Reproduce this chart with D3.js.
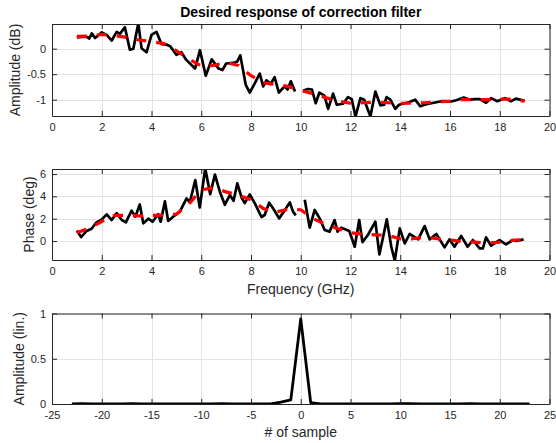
<!DOCTYPE html>
<html>
<head>
<meta charset="utf-8">
<script src="https://cdn.jsdelivr.net/npm/d3@7"></script>
<style>
  body { margin: 0; background: #fff; }
  svg { display: block; font-family: "Liberation Sans", Arial, Helvetica, sans-serif; }
</style>
</head>
<body>
<div id="chart"></div>
<script>
// ---- data ----
// measured amplitude (dB); null marks the break near 10 GHz
const ampFreq = [1.0,1.2,1.4,1.5,1.6,1.73,2.0,2.2,2.4,2.6,2.73,2.93,3.13,3.27,3.47,3.6,3.8,4.0,4.2,4.4,4.6,4.75,
  5.0,5.2,5.4,5.75,5.95,6.18,6.42,6.7,6.85,7.0,7.28,7.45,7.57,7.79,7.95,8.15,8.35,8.49,8.62,8.79,8.95,
  9.12,9.35,9.47,9.6,9.77,9.9,10.1,10.3,10.45,10.6,10.75,10.95,11.1,11.3,11.45,11.7,11.9,12.05,12.2,12.4,
  12.55,12.8,13.0,13.2,13.35,13.45,13.6,13.8,13.95,14.1,14.35,14.6,14.8,15.05,15.35,15.65,16.0,16.25,
  16.55,16.8,17.0,17.2,17.45,17.65,17.9,18.2,18.45,18.65,19.0];
const ampMeas = [0.22,0.23,0.23,0.20,0.30,0.21,0.32,0.27,0.16,0.33,0.29,0.42,-0.02,0.0,0.5,0.01,-0.07,0.27,0.33,0.09,0.08,0.05,
  -0.12,-0.07,-0.22,-0.39,-0.03,-0.53,-0.21,-0.39,-0.42,-0.29,-0.28,-0.25,-0.13,-0.71,-0.86,-0.68,-0.49,-0.74,-0.62,-0.69,-0.56,
  -0.86,-0.74,-0.80,-0.64,-0.84,null,-0.82,-0.79,-0.80,-1.07,-0.86,-0.92,-1.18,-0.88,-1.10,-1.08,-0.95,-0.99,-1.33,-0.97,
  -1.0,-1.33,-0.84,-1.11,-1.1,-0.95,-1.0,-1.18,-1.1,-1.08,-1.05,-1.0,-1.13,-1.09,-1.06,-1.03,-1.04,-1.01,
  -0.96,-1.0,-0.99,-0.99,-1.06,-0.97,-1.03,-0.97,-1.03,-0.98,-1.02];

// measured phase (deg)
const phFreq = [1.0,1.17,1.39,1.59,1.79,1.99,2.2,2.4,2.6,2.8,2.97,3.2,3.35,3.53,3.67,3.87,4.04,4.27,4.37,4.54,4.67,4.87,
  5.14,5.41,5.54,5.76,5.94,6.16,6.36,6.55,6.75,6.95,7.15,7.3,7.45,7.62,7.75,7.95,8.15,8.42,8.55,8.73,8.93,
  9.13,9.32,9.56,9.69,9.8,9.95,10.16,10.36,10.56,10.76,10.96,11.16,11.36,11.48,11.63,11.95,12.17,12.35,12.48,12.7,
  13.0,13.16,13.3,13.46,13.64,13.78,13.98,14.18,14.38,14.72,14.98,15.18,15.45,15.78,15.98,16.18,16.45,16.71,16.92,
  17.19,17.32,17.45,17.65,17.99,18.25,18.53,18.66,18.96];
const phMeas = [0.95,0.35,0.9,1.1,1.67,1.9,2.39,1.88,2.5,1.9,1.67,2.72,2.18,3.28,1.58,2.0,1.73,2.4,1.73,3.55,1.8,2.18,
  2.63,3.82,3.45,5.46,3.0,6.5,4.2,5.95,4.4,3.25,4.12,3.6,5.16,3.9,3.4,4.18,3.4,2.15,2.33,3.43,2.78,
  2.03,2.63,3.46,2.63,2.3,null,3.7,1.2,2.78,2.03,0.98,0.84,1.88,0.84,1.19,0.9,-0.51,1.88,-0.1,0.54,
  1.73,-1.2,0.24,1.94,-0.51,-1.75,1.13,-0.21,0.63,0.15,1.34,0.15,0.63,-0.57,0.15,-0.51,0.45,-0.51,0.09,
  -0.66,-0.66,0.33,-0.42,0.09,-0.3,0.09,0.0,0.15];

// smoothed target (red dashed)
const fitFreq = [1,1.5,2,2.5,3,3.5,4,4.5,5,5.5,6,6.5,7,7.5,8,8.5,9,9.5,10,10.5,11,11.5,12,12.5,13,13.5,14,14.5,15,15.5,16,16.5,17,17.5,18,18.5,19];
const ampFit = [0.24,0.25,0.28,0.26,0.22,0.17,0.14,0.10,-0.04,-0.2,-0.34,-0.33,-0.27,-0.33,-0.53,-0.67,-0.7,-0.74,-0.82,-0.88,-0.96,-1.03,-1.07,-1.06,-1.05,-1.06,-1.07,-1.07,-1.06,-1.04,-1.03,-1.0,-1.0,-1.0,-0.99,-0.99,-1.03];
const phFit = [0.75,1.15,1.75,2.3,2.3,2.25,2.3,2.33,2.4,3.3,4.6,4.75,4.4,4.1,3.7,2.9,2.6,2.85,2.8,2.0,1.5,1.1,0.75,0.6,0.55,0.5,0.2,0.2,0.35,0.2,0.1,-0.05,-0.1,-0.2,-0.1,0.05,0.15];

// filter taps
const tapIndex = [-23,-22,-21,-20,-19,-18,-17,-16,-15,-14,-13,-12,-11,-10,-9,-8,-7,-6,-5,-4,-3,-2,-1,0,1,2,3,4,5,6,7,8,9,10,11,12,13,14,15,16,17,18,19,20,21,22,23];
const tapValue = [0,0.003,0.001,0,0.001,0.002,0.004,0.002,0,0,0.001,0.001,0,0,0.002,0.003,0.001,0,0,0,0.002,0.02,0.045,0.94,0.015,0,0.001,0.002,0.002,0.001,0,0,0.002,0.004,0.005,0.002,0,0,0.001,0.002,0.003,0.001,0,0.001,0.002,0,0];

const freqTicks = [0,2,4,6,8,10,12,14,16,18,20];
const sampleTicks = [-25,-20,-15,-10,-5,0,5,10,15,20,25];

// ---- layout ----
const W = 556, H = 443;
const LEFT = 52, RIGHT = 549.5;
const INK = '#262626', GRID = '#e3e3e3';

const svg = d3.select('#chart').append('svg').attr('width', W).attr('height', H);

svg.append('text')
  .attr('x', (LEFT + RIGHT) / 2).attr('y', 17)
  .attr('text-anchor', 'middle').attr('font-weight', 'bold').attr('font-size', 14)
  .attr('fill', '#000')
  .text('Desired response of correction filter');

let clipId = 0;
function panel(opt) {
  const x = d3.scaleLinear().domain(opt.xDomain).range([LEFT, RIGHT]);
  const y = d3.scaleLinear().domain(opt.yDomain).range([opt.bottom, opt.top]);
  const g = svg.append('g');

  // grid
  g.append('g').selectAll('line').data(opt.xTicks).join('line')
    .attr('x1', (d) => Math.round(x(d)) + 0.5).attr('x2', (d) => Math.round(x(d)) + 0.5)
    .attr('y1', opt.top).attr('y2', opt.bottom)
    .attr('stroke', GRID);
  g.append('g').selectAll('line').data(opt.yTicks).join('line')
    .attr('y1', (d) => Math.round(y(d)) + 0.5).attr('y2', (d) => Math.round(y(d)) + 0.5)
    .attr('x1', LEFT).attr('x2', RIGHT)
    .attr('stroke', GRID);

  // data
  const id = 'clip' + (clipId++);
  svg.append('clipPath').attr('id', id).append('rect')
    .attr('x', LEFT).attr('y', opt.top).attr('width', RIGHT - LEFT).attr('height', opt.bottom - opt.top);
  const plot = g.append('g').attr('clip-path', `url(#${id})`);
  opt.series.forEach((s) => {
    const pts = s.xs.map((v, i) => [v, s.ys[i]]);
    const line = d3.line()
      .defined((d) => d[1] != null)
      .x((d) => x(d[0])).y((d) => y(d[1]));
    plot.append('path').datum(pts)
      .attr('d', line)
      .attr('fill', 'none')
      .attr('stroke', s.color)
      .attr('stroke-width', s.width)
      .attr('stroke-linejoin', 'round')
      .attr('stroke-dasharray', s.dash || null);
  });

  // axes, MATLAB style: ticks inside, box on
  const fmt = (d) => String(d);
  const style = (sel) => {
    sel.select('.domain').attr('stroke', INK);
    sel.selectAll('.tick line').attr('stroke', INK);
    sel.selectAll('.tick text').attr('fill', INK).attr('font-size', 11)
      .attr('font-family', '"Liberation Sans", Arial, sans-serif');
  };
  g.append('g').attr('transform', `translate(0,${opt.bottom})`)
    .call(d3.axisBottom(x).tickValues(opt.xTicks).tickFormat(fmt).tickSizeInner(-5).tickSizeOuter(0).tickPadding(7.5))
    .call(style);
  g.append('g').attr('transform', `translate(0,${opt.top})`)
    .call(d3.axisTop(x).tickValues(opt.xTicks).tickFormat('').tickSizeInner(-5).tickSizeOuter(0))
    .call(style);
  g.append('g').attr('transform', `translate(${LEFT},0)`)
    .call(d3.axisLeft(y).tickValues(opt.yTicks).tickFormat(fmt).tickSizeInner(-5).tickSizeOuter(0).tickPadding(6))
    .call(style);
  g.append('g').attr('transform', `translate(${RIGHT},0)`)
    .call(d3.axisRight(y).tickValues(opt.yTicks).tickFormat('').tickSizeInner(-5).tickSizeOuter(0))
    .call(style);

  // labels
  g.append('text')
    .attr('transform', `translate(${opt.yLabelX},${(opt.top + opt.bottom) / 2}) rotate(-90)`)
    .attr('text-anchor', 'middle').attr('font-size', 14).attr('fill', INK)
    .text(opt.yLabel);
  if (opt.xLabel) {
    g.append('text')
      .attr('x', (LEFT + RIGHT) / 2).attr('y', opt.xLabelY)
      .attr('text-anchor', 'middle').attr('font-size', 14).attr('fill', INK)
      .text(opt.xLabel);
  }
}

panel({
  top: 24, bottom: 116,
  xDomain: [0, 20], yDomain: [-1.32, 0.484],
  xTicks: freqTicks, yTicks: [-1, -0.5, 0],
  yLabel: 'Amplitude (dB)', yLabelX: 20,
  series: [
    { xs: ampFreq, ys: ampMeas, color: '#000', width: 2.7 },
    { xs: fitFreq, ys: ampFit, color: '#ff0000', width: 3.2, dash: '10,10' },
  ],
});

panel({
  top: 169, bottom: 260,
  xDomain: [0, 20], yDomain: [-1.7, 6.45],
  xTicks: freqTicks, yTicks: [0, 2, 4, 6],
  yLabel: 'Phase (deg)', yLabelX: 34,
  xLabel: 'Frequency (GHz)', xLabelY: 294,
  series: [
    { xs: phFreq, ys: phMeas, color: '#000', width: 2.7 },
    { xs: fitFreq, ys: phFit, color: '#ff0000', width: 3.2, dash: '10,10' },
  ],
});

panel({
  top: 313.5, bottom: 404,
  xDomain: [-25, 25], yDomain: [0, 1],
  xTicks: sampleTicks, yTicks: [0, 0.5, 1],
  yLabel: 'Amplitude (lin.)', yLabelX: 24,
  xLabel: '# of sample', xLabelY: 437,
  series: [
    { xs: tapIndex, ys: tapValue, color: '#000', width: 2.8 },
  ],
});
</script>
</body>
</html>
